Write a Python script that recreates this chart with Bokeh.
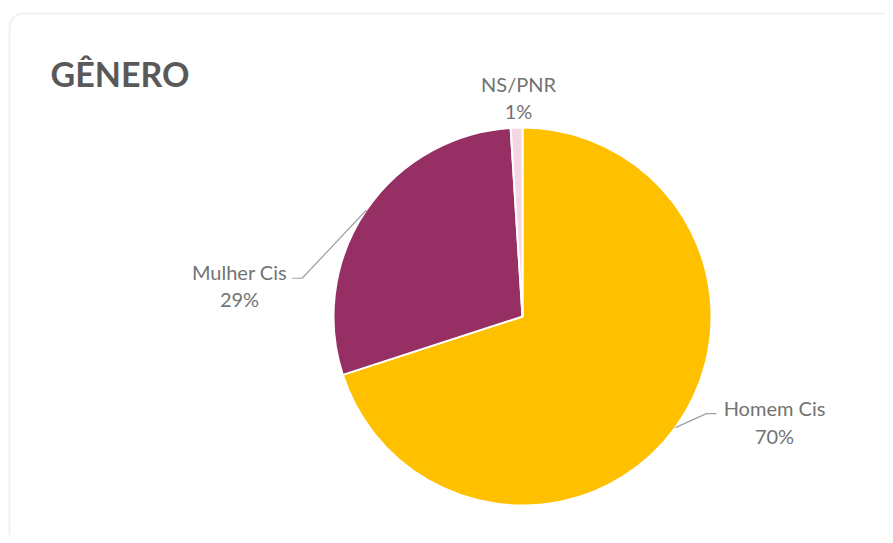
import numpy as np
from bokeh.plotting import figure
from bokeh.models import Range1d, BoxAnnotation
from bokeh.embed import file_html
from bokeh.resources import INLINE
from bokeh.core.properties import value

# ---- data ----
categories = ["Homem Cis", "Mulher Cis", "NS/PNR"]
percentages = [70, 29, 1]
pct_labels = ["70%", "29%", "1%"]
colors = ["#FFC000", "#962F63", "#F3D6E1"]
title_text = "GÊNERO"

# ---- layout ----
W, H = 885, 535
CX, CY, R = 522, H - 316, 189
FONT = "Lato"
LABEL_COLOR = "#737373"

p = figure(width=W, height=H, output_backend="svg", toolbar_location=None,
           x_range=Range1d(0, W), y_range=Range1d(0, H), min_border=0)
p.axis.visible = False
p.grid.visible = False
p.outline_line_color = None
p.background_fill_color = "white"
p.border_fill_color = "white"

# chart-area frame (rounded)
p.add_layout(BoxAnnotation(left=9, right=W + 12, top=H - 13, bottom=-12,
                           fill_color="white", fill_alpha=1.0,
                           line_color="#cccccc", line_width=2,
                           border_radius=14, level="underlay"))

vals = np.array(percentages, dtype=float)
frac = vals / vals.sum()
ends = np.cumsum(frac)
starts = ends - frac
start_angles = np.pi / 2 - starts * 2 * np.pi
end_angles = np.pi / 2 - ends * 2 * np.pi

p.wedge(x=CX, y=CY, radius=R, start_angle=start_angles, end_angle=end_angles,
        direction="clock", fill_color=colors, line_color="white", line_width=2)

# leader lines (Homem Cis, Mulher Cis)
mid = (starts + ends) / 2
mid_ang = np.pi / 2 - mid * 2 * np.pi
leader_offsets = {0: ((31, 14), 10), 1: ((-64, -68), -10)}
for i, ((ex, ey), hx) in leader_offsets.items():
    x0 = CX + R * np.cos(mid_ang[i])
    y0 = CY + R * np.sin(mid_ang[i])
    xs = [x0, x0 + ex, x0 + ex + hx]
    ys = [y0, y0 + ey, y0 + ey]
    p.line(xs, ys, line_color="#a0a0a0", line_width=1.2)

# labels (page-pixel layout: x, y of first line, y of second line)
label_pos = [(774, H - 407, H - 435), (239, H - 271, H - 298), (518, H - 83, H - 110)]
for i, (lx, ly1, ly2) in enumerate(label_pos):
    p.text(x=[lx], y=[ly1], text=[categories[i]], text_align="center",
           text_baseline="middle", text_font=value(FONT),
           text_font_size="20px", text_color=LABEL_COLOR)
    p.text(x=[lx], y=[ly2], text=[pct_labels[i]], text_align="center",
           text_baseline="middle", text_font=value(FONT),
           text_font_size="20px", text_color=LABEL_COLOR)

p.text(x=[50], y=[H - 73], text=[title_text], text_align="left",
       text_baseline="middle", text_font=value(FONT),
       text_font_size="34px", text_font_style="bold", text_color="#595959")

open("out.html", "w").write(file_html(p, INLINE))
